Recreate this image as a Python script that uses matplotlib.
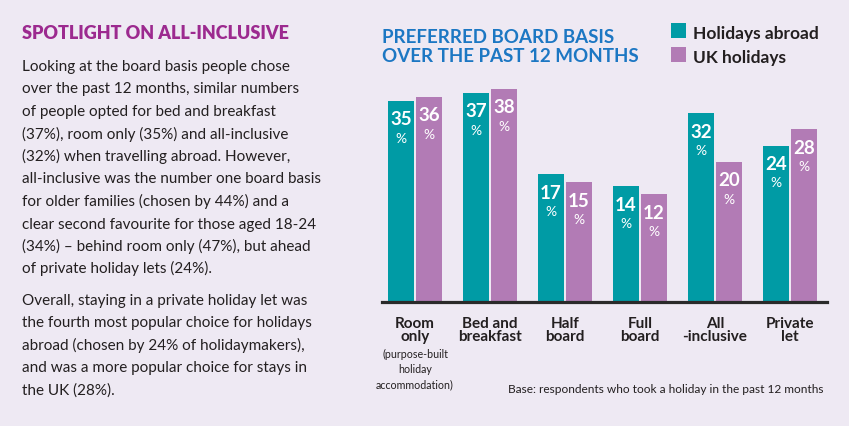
import matplotlib
matplotlib.use("Agg")
import matplotlib.pyplot as plt
from matplotlib.patches import Rectangle

# ---- data ----
categories = ["Room\nonly", "Bed and\nbreakfast", "Half\nboard", "Full\nboard", "All\n-inclusive", "Private\nlet"]
abroad = [35, 37, 17, 14, 32, 24]
uk = [36, 38, 15, 12, 20, 28]
series_names = ["Holidays abroad", "UK holidays"]
room_note = "(purpose-built\nholiday\naccommodation)"

title = "PREFERRED BOARD BASIS\nOVER THE PAST 12 MONTHS"
side_heading = "SPOTLIGHT ON ALL-INCLUSIVE"
para1 = ["Looking at the board basis people chose",
         "over the past 12 months, similar numbers",
         "of people opted for bed and breakfast",
         "(37%), room only (35%) and all-inclusive",
         "(32%) when travelling abroad. However,",
         "all-inclusive was the number one board basis",
         "for older families (chosen by 44%) and a",
         "clear second favourite for those aged 18-24",
         "(34%) \u2013 behind room only (47%), but ahead",
         "of private holiday lets (24%)."]
para2 = ["Overall, staying in a private holiday let was",
         "the fourth most popular choice for holidays",
         "abroad (chosen by 24% of holidaymakers),",
         "and was a more popular choice for stays in",
         "the UK (28%)."]
base_note = "Base: respondents who took a holiday in the past 12 months"

# ---- style ----
W, H = 849, 427
BG = "#EEE9F3"
TEAL = "#009BA5"
PURPLE = "#B27BB5"
BLUE = "#1C77C3"
MAG = "#9C2A8F"
TXT = "#231F20"
FONT = ["Lato", "DejaVu Sans"]
plt.rcParams["font.family"] = FONT

fig = plt.figure(figsize=(W / 100, H / 100), dpi=100, facecolor=BG)

def P(x, y):
    return x / W, 1 - y / H

# left text panel
fig.text(*P(22, 39), side_heading, color=MAG, fontsize=13, fontweight="heavy", va="baseline", ha="left")
for i, line in enumerate(para1):
    fig.text(*P(22, 71 + i * 22.5), line, color=TXT, fontsize=11, va="baseline", ha="left")
for i, line in enumerate(para2):
    fig.text(*P(22, 305 + i * 22.5), line, color=TXT, fontsize=11, va="baseline", ha="left")

# chart title
fig.text(*P(382, 62), title, color=BLUE, fontsize=13.5, fontweight="bold", va="baseline", ha="left",
         linespacing=1.15)

# legend
for j, (name, col) in enumerate(zip(series_names, [TEAL, PURPLE])):
    yb = 39 + j * 23.5
    fig.patches.append(Rectangle(P(671, yb), 15 / W, 15 / H, transform=fig.transFigure,
                                 facecolor=col, edgecolor="none"))
    fig.text(*P(693, yb), name, color=TXT, fontsize=12.5, fontweight="bold", va="baseline", ha="left")

# axes
left_px, right_px, base_px, top_px = 381.7, 826.7, 302.7, 80
ax = fig.add_axes([left_px / W, 1 - base_px / H, (right_px - left_px) / W, (base_px - top_px) / H])
ax.set_facecolor("none")
ymin = -14.45
ymax = ymin + (base_px - top_px) / 4.06
ax.set_ylim(ymin, ymax)
ax.set_xlim(-0.444, 5.489)
for s in ["top", "right", "left", "bottom"]:
    ax.spines[s].set_visible(False)
ax.set_xticks([])
ax.set_yticks([])

w = 26 / 75
off = 14 / 75
xs = list(range(len(categories)))
for vals, col, d in [(abroad, TEAL, -off), (uk, PURPLE, off)]:
    for x, v in zip(xs, vals):
        ax.bar(x + d, v - ymin, bottom=ymin, width=w, color=col, edgecolor="none")
        ax.annotate(f"{v}", (x + d, v), xytext=(0, -13), textcoords="offset points",
                    ha="center", va="center", color="white", fontsize=13.5, fontweight="bold")
        ax.annotate("%", (x + d, v), xytext=(0, -26.5), textcoords="offset points",
                    ha="center", va="center", color="white", fontsize=10)

ax.axhline(ymin, color="#2A2A2A", lw=2.3, clip_on=False, zorder=5)

for x, cat in zip(xs, categories):
    ax.annotate(cat, (x, ymin), xytext=(0, -10), textcoords="offset points", ha="center", va="top",
                fontsize=11, fontweight="bold", color=TXT, linespacing=0.92)
ax.annotate(room_note, (0, ymin), xytext=(0, -33.5), textcoords="offset points", ha="center", va="top",
            fontsize=7.7, color=TXT, linespacing=1.42)

fig.text(*P(824, 393), base_note, color=TXT, fontsize=8.6, va="baseline", ha="right")

fig.savefig("out.png", dpi=100, facecolor=BG)
